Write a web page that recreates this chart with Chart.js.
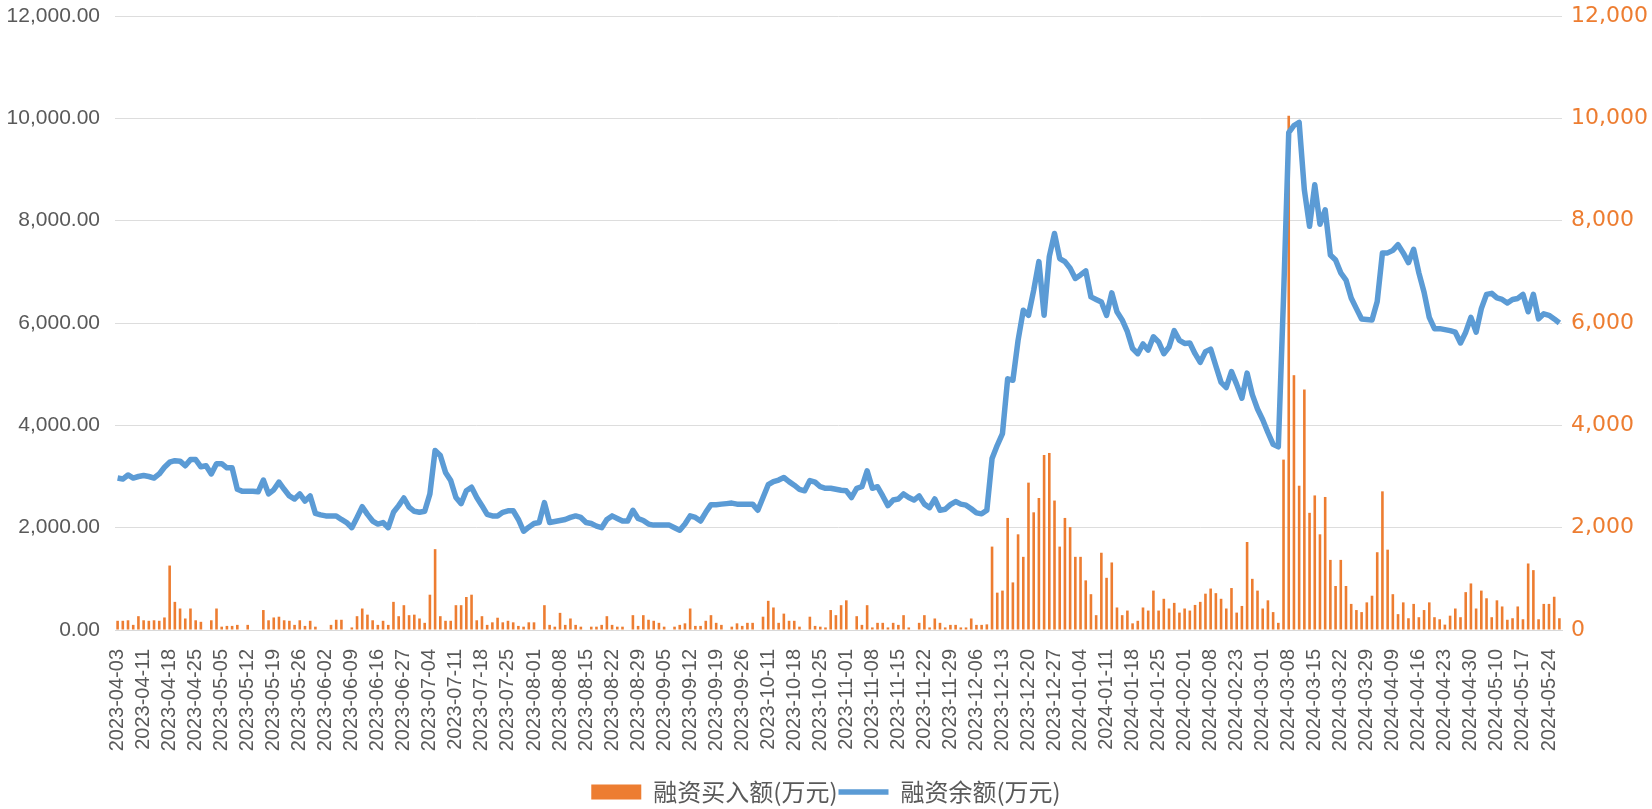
<!DOCTYPE html>
<html>
<head>
<meta charset="utf-8">
<script src="https://cdn.jsdelivr.net/npm/chart.js@4.4.1/dist/chart.umd.min.js"></script>
<style>
  html, body { margin: 0; padding: 0; background: #fff; }
  #wrap { width: 1652px; height: 809px; }
</style>
</head>
<body>
<div id="wrap"><canvas id="chart"></canvas></div>
<script>
// ===== Data =====
const startDate = '2023-04-03';
const endDate = '2024-05-28';
// exchange holidays on weekdays (no trading)
const holidays = [
  '2023-04-05', '2023-05-01', '2023-05-02', '2023-05-03', '2023-06-22', '2023-06-23',
  '2023-09-29', '2023-10-02', '2023-10-03', '2023-10-04', '2023-10-05', '2023-10-06',
  '2024-01-01', '2024-02-09', '2024-02-12', '2024-02-13', '2024-02-14', '2024-02-15',
  '2024-02-16', '2024-04-04', '2024-04-05', '2024-05-01', '2024-05-02', '2024-05-03'
];

// 融资买入额(万元)
const buyAmount = [
  180, 180, 190, 100, 270, 190, 180, 190, 180, 245,
  1260, 550, 420, 225, 420, 190, 160, 0, 190, 420,
  65, 80, 80, 100, 0, 100, 0, 0, 390, 190,
  245, 260, 190, 180, 100, 190, 80, 180, 65, 0,
  0, 100, 200, 200, 0, 50, 270, 420, 300, 190,
  100, 180, 100, 550, 270, 485, 290, 300, 225, 140,
  690, 1580, 270, 180, 180, 485, 485, 645, 690, 190,
  270, 100, 150, 240, 150, 180, 150, 80, 65, 150,
  150, 0, 485, 100, 65, 335, 100, 225, 100, 65,
  0, 65, 65, 100, 270, 100, 65, 65, 0, 290,
  80, 290, 200, 180, 140, 65, 0, 65, 100, 130,
  420, 80, 80, 180, 290, 140, 100, 0, 65, 130,
  80, 140, 140, 0, 260, 570, 440, 140, 320, 180,
  180, 65, 0, 260, 80, 65, 50, 390, 290, 485,
  580, 0, 270, 100, 485, 50, 140, 140, 50, 140,
  100, 290, 50, 0, 140, 290, 50, 225, 140, 50,
  100, 100, 50, 50, 225, 100, 100, 110, 1630, 730,
  770, 2190, 930, 1870, 1430, 2880, 2300, 2580, 3420, 3460,
  2530, 1630, 2190, 2010, 1430, 1430, 970, 700, 290, 1510,
  1020, 1320, 440, 290, 380, 130, 180, 440, 380, 770,
  380, 610, 420, 530, 340, 420, 380, 490, 550, 710,
  810, 720, 610, 420, 820, 340, 470, 1720, 1000, 770,
  420, 580, 350, 140, 3330, 10050, 4980, 2820, 4700, 2290,
  2630, 1870, 2600, 1370, 860, 1370, 860, 510, 390, 350,
  540, 670, 1520, 2710, 1570, 700, 310, 540, 230, 510,
  250, 390, 540, 250, 210, 105, 280, 420, 250, 740,
  910, 420, 770, 620, 250, 580, 460, 200, 230, 460,
  210, 1300, 1170, 210, 510, 510, 650, 230
];

// 融资余额(万元)
const balance = [
  2970, 2950, 3030, 2970, 3000, 3020, 3000, 2970, 3050, 3180,
  3280, 3310, 3300, 3210, 3330, 3330, 3190, 3210, 3050, 3250,
  3250, 3170, 3170, 2750, 2710, 2710, 2710, 2700, 2930, 2660,
  2740, 2890, 2750, 2620, 2560, 2660, 2520, 2620, 2280, 2250,
  2230, 2230, 2230, 2160, 2100, 2000, 2200, 2410, 2260, 2130,
  2070, 2100, 2000, 2300, 2430, 2580, 2400, 2320, 2300, 2320,
  2660, 3510, 3410, 3080, 2920, 2590, 2470, 2720, 2790, 2590,
  2430, 2260, 2230, 2230, 2300, 2330, 2330, 2160, 1930, 2010,
  2080, 2100, 2490, 2100, 2120, 2140, 2160, 2200, 2230, 2200,
  2100, 2080, 2030, 2000, 2160, 2230, 2180, 2130, 2130, 2340,
  2180, 2140, 2070, 2050, 2050, 2050, 2050, 2000, 1950, 2070,
  2230, 2200, 2130, 2300, 2450, 2450, 2460, 2470, 2480, 2460,
  2460, 2460, 2460, 2340, 2590, 2840, 2900, 2930, 2980, 2900,
  2830, 2750, 2720, 2920, 2890, 2800, 2770, 2770, 2750, 2730,
  2720, 2590, 2770, 2800, 3110, 2770, 2800, 2620, 2430, 2540,
  2560, 2660, 2590, 2540, 2620, 2460, 2390, 2560, 2340, 2360,
  2450, 2510, 2460, 2440, 2370, 2290, 2270, 2340, 3350, 3610,
  3840, 4910, 4880, 5660, 6250, 6150, 6640, 7200, 6150, 7300,
  7750, 7260, 7200, 7070, 6870, 6940, 7020, 6510, 6460, 6410,
  6150, 6590, 6220, 6060, 5830, 5500, 5400, 5590, 5470, 5730,
  5630, 5400, 5530, 5850, 5660, 5600, 5610, 5400, 5230, 5440,
  5490, 5160, 4840, 4740, 5050, 4800, 4530, 5020, 4600, 4320,
  4110, 3860, 3630, 3580, 6500, 9720, 9860, 9920, 8600, 7890,
  8700, 7930, 8210, 7330, 7230, 6980, 6840, 6490, 6280, 6080,
  6070, 6060, 6420, 7370, 7370, 7420, 7530, 7370, 7180, 7440,
  6980, 6600, 6110, 5890, 5890, 5870, 5850, 5820, 5610, 5820,
  6110, 5820, 6280, 6560, 6580, 6490, 6460, 6390, 6460, 6480,
  6560, 6220, 6560, 6080, 6180, 6150, 6080, 6000
];

// trading days between start and end
function tradingDays(from, to){
  const out = [];
  const d = new Date(from + 'T00:00:00Z');
  const end = new Date(to + 'T00:00:00Z');
  while(d <= end){
    const s = d.toISOString().slice(0, 10);
    const wd = d.getUTCDay();
    if(wd !== 0 && wd !== 6 && !holidays.includes(s)) out.push(s);
    d.setUTCDate(d.getUTCDate() + 1);
  }
  return out;
}
const dates = tradingDays(startDate, endDate);

const textFont = "'Liberation Sans', 'Noto Sans CJK SC', sans-serif";
const legendFont = "'Noto Sans CJK SC', 'Liberation Sans', sans-serif";
const grey = '#595959';
const orange = '#ED7D31';
const blue = '#5B9BD5';

// scales sit flush to the padding we give them
const noPad = s => { s.paddingTop = 0; s.paddingBottom = 0; };

const ctx = document.getElementById('chart').getContext('2d');
new Chart(ctx, {
  type: 'bar',
  data: {
    labels: dates,
    datasets: [
      {
        type: 'bar',
        label: '融资买入额(万元)',
        data: buyAmount,
        yAxisID: 'yRight',
        backgroundColor: orange,
        borderWidth: 0,
        barPercentage: 0.5,
        categoryPercentage: 1.0,
        pointStyle: 'rect',
        order: 2
      },
      {
        type: 'line',
        label: '融资余额(万元)',
        data: balance,
        yAxisID: 'yLeft',
        borderColor: blue,
        backgroundColor: blue,
        borderWidth: 5.5,
        pointRadius: 0,
        pointHoverRadius: 0,
        tension: 0,
        pointStyle: 'line',
        borderJoinStyle: 'round',
        order: 1
      }
    ]
  },
  options: {
    responsive: true,
    maintainAspectRatio: false,
    devicePixelRatio: 1,
    animation: false,
    layout: { padding: { top: 16, left: 0, right: 0, bottom: -5 } },
    scales: {
      x: {
        offset: true,
        grid: { display: false, drawTicks: false },
        border: { display: true, color: '#D9D9D9', width: 1 },
        ticks: {
          autoSkip: false,
          minRotation: 90,
          maxRotation: 90,
          padding: 19,
          color: grey,
          font: { family: textFont, size: 20 },
          callback: function(v, i){ return i % 5 === 0 ? dates[i] : ''; }
        },
        afterFit: s => { s.height = 149; }
      },
      yLeft: {
        position: 'left',
        min: 0,
        max: 12000,
        grid: { color: '#DDDDDD', lineWidth: 1, drawTicks: false },
        border: { display: false },
        ticks: {
          stepSize: 2000,
          padding: 15,
          color: grey,
          font: { family: textFont, size: 21 },
          callback: v => v.toLocaleString('en-US', { minimumFractionDigits: 2, maximumFractionDigits: 2 })
        },
        afterFit: s => { s.width = 115; noPad(s); }
      },
      yRight: {
        position: 'right',
        min: 0,
        max: 12000,
        grid: { drawOnChartArea: false, drawTicks: false },
        border: { display: false },
        ticks: {
          stepSize: 2000,
          padding: 9,
          color: orange,
          font: { family: "'DejaVu Sans', sans-serif", size: 22 },
          callback: v => v.toLocaleString('en-US')
        },
        afterFit: s => { s.width = 90; noPad(s); }
      }
    },
    plugins: {
      legend: {
        position: 'bottom',
        labels: {
          usePointStyle: true,
          pointStyleWidth: 50,
          boxHeight: 15,
          padding: 1,
          color: grey,
          font: { family: legendFont, size: 24 },
          sort: (a, b) => a.datasetIndex - b.datasetIndex
        }
      },
      tooltip: { enabled: false }
    }
  }
});
</script>
</body>
</html>
